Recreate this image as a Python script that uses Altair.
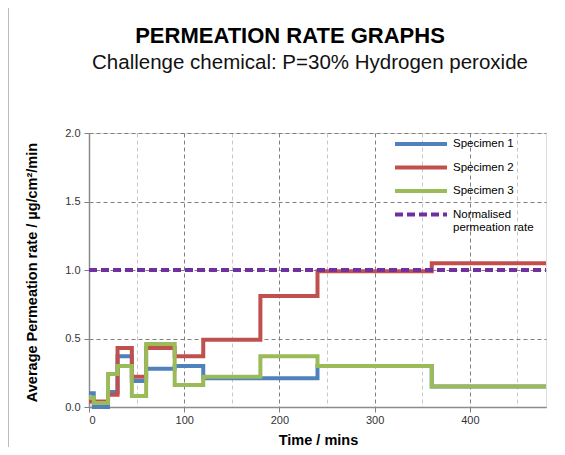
import altair as alt
import pandas as pd

# ---- data ----
times = [0, 5, 20, 30, 45, 60, 90, 120, 180, 240, 360, 480]
specimen1 = [0.10, 0.00, 0.11, 0.37, 0.19, 0.28, 0.30, 0.21, 0.21, 0.30, 0.15, 0.15]
specimen2 = [0.04, 0.04, 0.09, 0.43, 0.22, 0.43, 0.37, 0.49, 0.81, 0.99, 1.05, 1.05]
specimen3 = [0.07, 0.03, 0.24, 0.30, 0.08, 0.46, 0.16, 0.22, 0.37, 0.30, 0.15, 0.15]
norm_times = [0, 480]
norm_values = [1.0, 1.0]

series_names = ["Specimen 1", "Specimen 2", "Specimen 3", "Normalised permeation rate"]
series_colors = ["#4F81BD", "#C0504D", "#9BBB59", "#7030A0"]
series_dash = [[1, 0], [1, 0], [1, 0], [8, 4]]

x_ticks = [0, 50, 100, 150, 200, 250, 300, 350, 400, 450]
y_ticks = [0.0, 0.5, 1.0, 1.5, 2.0]

title_text = "PERMEATION RATE GRAPHS"
subtitle_text = "Challenge chemical: P=30% Hydrogen peroxide"
x_title = "Time / mins"
y_title = "Average Permeation rate / µg/cm²/min"

FONT = "Liberation Sans"

rows = []
for name, vals in zip(series_names[:3], [specimen1, specimen2, specimen3]):
    for t, v in zip(times, vals):
        rows.append({"time": t, "rate": v, "series": name})
spec_df = pd.DataFrame(rows)
norm_df = pd.DataFrame({"time": norm_times, "rate": norm_values,
                        "series": [series_names[3]] * len(norm_times)})

grid_col = {"condition": {"test": "datum.value % 100 === 0", "value": "#7f7f7f"}, "value": "#c8c8c8"}
tick_op = {"condition": {"test": "datum.value % 100 === 0", "value": 1}, "value": 0}

x_enc = alt.X(
    "time:Q",
    scale=alt.Scale(domain=[0, 480], nice=False),
    axis=alt.Axis(
        values=x_ticks, title=x_title,
        labelExpr="datum.value % 100 === 0 ? datum.label : ''",
        gridColor=grid_col, gridDash=[4, 3], gridWidth=1,
        tickOpacity=tick_op, tickSize=5, tickColor="#7f7f7f",
        domainColor="#8c8c8c", domainWidth=1.5,
        labelFont=FONT, labelFontSize=11, labelColor="#333333", labelPadding=2,
        titleFont=FONT, titleFontSize=14.5, titleFontWeight="bold", titleColor="#000000",
        titleX=229, titleY=33, titleAlign="center", titleBaseline="middle",
    ),
)
y_enc = alt.Y(
    "rate:Q",
    scale=alt.Scale(domain=[0, 2], nice=False),
    axis=alt.Axis(
        values=y_ticks, format=".1f", title=y_title,
        gridColor="#7f7f7f", gridDash=[4, 3], gridWidth=1,
        tickSize=5, tickColor="#7f7f7f",
        domainColor="#8c8c8c", domainWidth=1.5,
        labelFont=FONT, labelFontSize=11, labelColor="#333333", labelPadding=4,
        titleFont=FONT, titleFontSize=14.5, titleFontWeight="bold", titleColor="#000000",
        titleX=-57, titleY=139, titleAngle=-90, titleAlign="center", titleBaseline="middle",
    ),
)
legend_opts = dict(
    title=None, orient="none", legendX=304, legendY=4,
    symbolType="stroke", symbolSize=2700, symbolStrokeWidth=4,
    clipHeight=14, rowPadding=9.5, labelOffset=4,
    labelFont=FONT, labelFontSize=11.5, labelColor="#000000", labelLimit=200,
    labelExpr="datum.label == 'Normalised permeation rate' ? ['Normalised', 'permeation rate'] : datum.label",
)
color_enc = alt.Color(
    "series:N",
    scale=alt.Scale(domain=series_names, range=series_colors),
    legend=alt.Legend(**legend_opts),
)
dash_enc = alt.StrokeDash(
    "series:N",
    scale=alt.Scale(domain=series_names, range=series_dash),
    legend=alt.Legend(**legend_opts),
)

spec_lines = alt.Chart(spec_df).mark_line(
    interpolate="step-after", strokeWidth=4, strokeCap="butt", strokeJoin="miter"
).encode(x=x_enc, y=y_enc, color=color_enc, strokeDash=dash_enc)

norm_line = alt.Chart(norm_df).mark_line(strokeWidth=4, strokeCap="butt").encode(
    x=alt.X("time:Q"), y=alt.Y("rate:Q"), color=alt.Color("series:N"),
    strokeDash=alt.StrokeDash("series:N"),
)

title_mark = alt.Chart(pd.DataFrame({"t": [title_text]})).mark_text(
    font=FONT, fontSize=22, fontWeight="bold", color="#000000",
    align="center", baseline="middle",
).encode(text="t:N", x=alt.value(201), y=alt.value(-97))

subtitle_mark = alt.Chart(pd.DataFrame({"t": [subtitle_text]})).mark_text(
    font=FONT, fontSize=20.5, color="#111111",
    align="center", baseline="middle",
).encode(text="t:N", x=alt.value(221), y=alt.value(-70))

frame = alt.Chart(pd.DataFrame({"a": [0]})).mark_rect(
    fill=None, stroke="#a6a6a6", strokeWidth=1.5
).encode(x=alt.value(-81), y=alt.value(-126), x2=alt.value(700), y2=alt.value(600))

chart = alt.layer(frame, spec_lines, norm_line, title_mark, subtitle_mark).resolve_scale(
    color="shared", strokeDash="shared"
).properties(
    width=457, height=274,
    autosize=alt.AutoSizeParams(type="none"),
    padding={"left": 81, "top": 125, "right": 11, "bottom": 40},
).configure_view(stroke="#8c8c8c", strokeWidth=1.5).configure(background="#ffffff")

chart.save("out.html", embed_options={"renderer": "svg", "actions": False})
